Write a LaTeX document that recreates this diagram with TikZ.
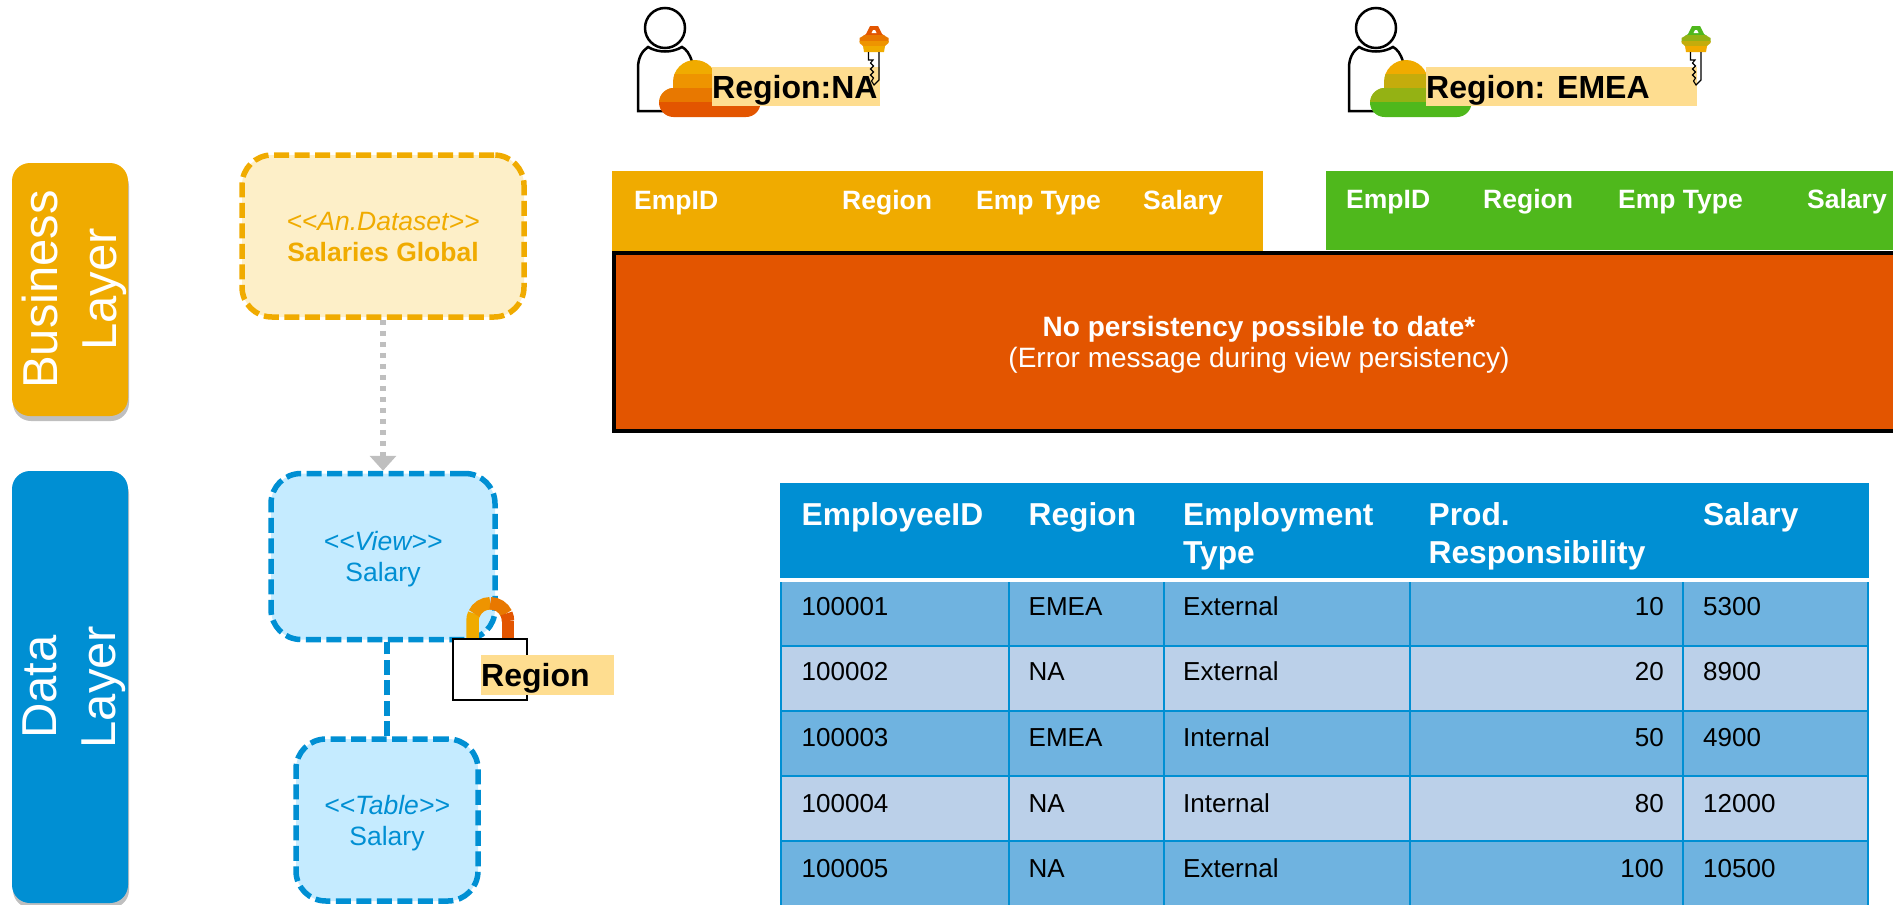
\documentclass[tikz,border=0pt]{standalone}
\usepackage{fontspec}
\setmainfont{Liberation Sans}
\usetikzlibrary{arrows.meta,shadows}

\definecolor{gold}{HTML}{F0AB00}
\definecolor{burnt}{HTML}{E35500}
\definecolor{azure}{HTML}{008FD3}
\definecolor{leaf}{HTML}{4FB81C}
\definecolor{marker}{HTML}{FEDD90}
\definecolor{palegold}{HTML}{FDEFC8}
\definecolor{paleazure}{HTML}{C5EBFF}
\definecolor{rowdark}{HTML}{6FB3E0}
\definecolor{rowlight}{HTML}{BBD0E9}
\definecolor{orangeA}{HTML}{EE9400}
\definecolor{orangeB}{HTML}{E87800}
\definecolor{greenA}{HTML}{C4AC0C}
\definecolor{greenB}{HTML}{94B214}

\tikzset{
  layerpill/.style={rectangle,rounded corners=18pt,minimum width=116pt,
    drop shadow={shadow xshift=1pt,shadow yshift=-5pt,fill=black!50}},
  layertext/.style={rotate=90,text=white,align=center,font=\fontsize{49}{59}\selectfont},
  dashbox/.style={rectangle,rounded corners=30pt,line width=5.5pt,dash pattern=on 15pt off 5.5pt},
  boxtext/.style={align=center,inner sep=0pt,font=\fontsize{26.5}{31}\selectfont},
  highlight/.style={rectangle,fill=marker,inner sep=0pt,minimum height=39pt,anchor=north west},
  regionlabel/.style={anchor=west,inner sep=0pt,yshift=-3.4pt,font=\fontsize{32}{32}\selectfont\bfseries},
  headcell/.style={anchor=base west,inner sep=0pt,text=white,font=\fontsize{26.5}{26.5}\selectfont\bfseries},
  tablehead/.style={anchor=base west,inner sep=0pt,text=white,font=\fontsize{31.7}{31.7}\selectfont\bfseries},
  cell/.style={anchor=base west,inner sep=0pt,font=\fontsize{26}{26}\selectfont},
  cellnum/.style={anchor=base east,inner sep=0pt,font=\fontsize{26}{26}\selectfont},
  tablerow/.style={rectangle,minimum width=1089pt,anchor=north west,inner sep=0pt},
  sep/.style={draw=azure,line width=2pt}
}

% person with the cloud in front
\newcommand{\drawuser}[5]{
  \begin{scope}[shift={(#1,0)}]
    \draw[line width=2.5pt] (665,28) circle (20pt);
    \draw[line width=2.5pt] (665,111) -- (638,111) -- (638,68) .. controls (638,58) and (642,51) .. (648,47)
      .. controls (658,53) and (672,53) .. (682,47) .. controls (686,49) and (690,54) .. (692,62);
    \begin{scope}
      \clip (673,88) -- (673,82) arc[start angle=180,end angle=0,radius=22pt] -- (717,88) -- (746,88)
        arc[start angle=90,end angle=-90,radius=14.5pt] -- (673.5,117)
        arc[start angle=270,end angle=90,radius=14.5pt] -- cycle;
      \fill[#2] (650,60) rectangle (770,74.5);
      \fill[#3] (650,74) rectangle (770,88.5);
      \fill[#4] (650,88) rectangle (770,102.5);
      \fill[#5] (650,102) rectangle (770,118);
    \end{scope}
  \end{scope}
}

% key, bit pointing down
\newcommand{\drawkey}[5]{
  \begin{scope}[shift={(#1,0)}]
    \begin{scope}
      \clip (-4,26) -- (4,26) -- (8,34) -- (11,36) -- (14.5,38) -- (14.5,43) -- (11,46) -- (10,52) -- (-10,52)
        -- (-11,46) -- (-14.5,43) -- (-14.5,38) -- (-11,36) -- (-8,34) -- cycle;
      \fill[#2] (-16,25) rectangle (16,35.5);
      \fill[#3] (-16,35) rectangle (16,41.5);
      \fill[#4] (-16,41) rectangle (16,46.5);
      \fill[#5] (-16,46) rectangle (16,53);
    \end{scope}
    \fill[white] (-2.5,33) -- (-1,30) -- (1,30) -- (2.5,33) -- cycle;
    \draw[line width=1.1pt] (-5.5,52) -- (-5.5,60) -- (-1,60) -- (-3.5,63) -- (-0.5,66) -- (-3.5,69) -- (-0.5,72)
      -- (-3.5,75) -- (-0.5,78) -- (-2.5,81) -- (0,85) -- (5,80) -- (5,52);
  \end{scope}
}

\begin{document}
\begin{tikzpicture}[x=1pt,y=-1pt]
  \useasboundingbox (0,0) rectangle (1893,904.6);
  \clip (0,0) rectangle (1893,904.6);

  % layers
  \node[layerpill,fill=gold,minimum height=253pt] (pillbusiness) at (70,289.5) {};
  \node[layerpill,fill=azure,minimum height=432pt] (pilldata) at (70,687) {};
  \node[layertext] (textbusiness) at (74,289.5) {Business\\Layer};
  \node[layertext] (textdata) at (74,687) {Data\\Layer};

  % model boxes
  \node[dashbox,draw=gold,fill=palegold,minimum width=282pt,minimum height=162pt] (dataset) at (383,236) {};
  \node[dashbox,draw=azure,fill=paleazure,minimum width=224pt,minimum height=166pt] (view) at (383,556.5) {};
  \node[dashbox,draw=azure,fill=paleazure,minimum width=182pt,minimum height=162pt] (table) at (387,820) {};
  \node[boxtext,text=gold] (datasettext) at (383,237) {\textit{<{}<An.Dataset>{}>}\\\textbf{Salaries Global}};
  \node[boxtext,text=azure] (viewtext) at (383,559) {\textit{<{}<View>{}>}\\Salary};
  \node[boxtext,text=azure] (tabletext) at (387,823) {\textit{<{}<Table>{}>}\\Salary};
  \draw[line width=5.5pt,black!25,dash pattern=on 5pt off 6pt,-{Triangle[length=15pt,width=26pt]}] (dataset.south) -- (view.north);
  \draw[line width=5.5pt,azure,dash pattern=on 15pt off 5.5pt] (table.north) -- (table.north |- view.south);

  % lock on the view
  \draw[line width=12.5pt,gold] (472.5,639) -- (472.5,621) arc[start angle=180,end angle=155,radius=17.75pt];
  \draw[line width=12.5pt,orangeA] (474.2,613.5) arc[start angle=155,end angle=90,radius=17.75pt];
  \draw[line width=12.5pt,orangeB] (490.25,603.25) arc[start angle=90,end angle=25,radius=17.75pt];
  \draw[line width=12.5pt,burnt] (508,621) arc[start angle=0,end angle=25,radius=17.75pt];
  \draw[line width=12.5pt,burnt] (508,639) -- (508,621);
  \node[draw=black,fill=white,line width=2.5pt,minimum width=74pt,minimum height=61pt,inner sep=0pt] (lock) at (490,669.5) {};
  \node[highlight,minimum width=133pt,minimum height=40pt] (lockmark) at (481,655) {};
  \node[regionlabel] (locktext) at (lockmark.west) {Region};

  % users
  \drawuser{0}{gold}{orangeA}{orangeB}{burnt}
  \node[highlight,minimum width=168pt] (markna) at (712,67) {};
  \drawkey{874}{burnt}{orangeB}{orangeA}{gold}
  \node[regionlabel] (regionna) at (markna.west) {Region:NA};

  \drawuser{711}{gold}{greenA}{greenB}{leaf}
  \node[highlight,minimum width=271pt] (markemea) at (1426,67) {};
  \drawkey{1696}{leaf}{greenB}{greenA}{gold}
  \node[regionlabel] (regionemea) at (markemea.west) {Region: EMEA};

  % business layer results
  \fill[gold] (612,171) rectangle (1263,252);
  \fill[leaf] (1326,171) rectangle (1900,250);
  \node[headcell] (naid) at (634,209) {EmpID};
  \node[headcell] (naregion) at (842,209) {Region};
  \node[headcell] (natype) at (976,209) {Emp Type};
  \node[headcell] (nasalary) at (1143,209) {Salary};
  \node[headcell] (emeaid) at (1346,208) {EmpID};
  \node[headcell] (emearegion) at (1483,208) {Region};
  \node[headcell] (emeatype) at (1618,208) {Emp Type};
  \node[headcell] (emeasalary) at (1807,208) {Salary};
  \draw[draw=black,fill=burnt,line width=4.5pt] (614,253) rectangle (1900,431);
  \node[text=white,align=center,font=\fontsize{28}{31.5}\selectfont] (errortext) at (1259,345)
    {\textbf{No persistency possible to date*}\\(Error message during view persistency)};

  % table
  \fill[azure] (780,483) rectangle (1869,578);
  \node[tablerow,fill=rowdark,minimum height=65pt] (rowa) at (780,582) {};
  \node[tablerow,fill=rowlight,minimum height=65pt] (rowb) at (780,647) {};
  \node[tablerow,fill=rowdark,minimum height=65pt] (rowc) at (780,712) {};
  \node[tablerow,fill=rowlight,minimum height=65pt] (rowd) at (780,777) {};
  \node[tablerow,fill=rowdark,minimum height=70pt] (rowe) at (780,842) {};
  \draw[sep] (781,582) -- (781,906);
  \draw[sep] (1009,582) -- (1009,906);
  \draw[sep] (1164,582) -- (1164,906);
  \draw[sep] (1410,582) -- (1410,906);
  \draw[sep] (1683,582) -- (1683,906);
  \draw[sep] (1868,582) -- (1868,906);
  \draw[sep] (780,646) -- (1869,646);
  \draw[sep] (780,711) -- (1869,711);
  \draw[sep] (780,776) -- (1869,776);
  \draw[sep] (780,841) -- (1869,841);
  \node[tablehead] (heada) at (801.5,525.5) {EmployeeID};
  \node[tablehead] (headb) at (1028.5,525.5) {Region};
  \node[tablehead] (headc) at (1183,525.5) {Employment};
  \node[tablehead] (headcc) at (1183,563.5) {Type};
  \node[tablehead] (headd) at (1428.5,525.5) {Prod.};
  \node[tablehead] (headdd) at (1428.5,563.5) {Responsibility};
  \node[tablehead] (heade) at (1703,525.5) {Salary};
  \node[cell] (a1) at (801.5,615) {100001};
  \node[cell] (a2) at (1028.5,615) {EMEA};
  \node[cell] (a3) at (1183,615) {External};
  \node[cellnum] (a4) at (1664,615) {10};
  \node[cell] (a5) at (1703,615) {5300};
  \node[cell] (b1) at (801.5,680) {100002};
  \node[cell] (b2) at (1028.5,680) {NA};
  \node[cell] (b3) at (1183,680) {External};
  \node[cellnum] (b4) at (1664,680) {20};
  \node[cell] (b5) at (1703,680) {8900};
  \node[cell] (c1) at (801.5,746) {100003};
  \node[cell] (c2) at (1028.5,746) {EMEA};
  \node[cell] (c3) at (1183,746) {Internal};
  \node[cellnum] (c4) at (1664,746) {50};
  \node[cell] (c5) at (1703,746) {4900};
  \node[cell] (d1) at (801.5,812) {100004};
  \node[cell] (d2) at (1028.5,812) {NA};
  \node[cell] (d3) at (1183,812) {Internal};
  \node[cellnum] (d4) at (1664,812) {80};
  \node[cell] (d5) at (1703,812) {12000};
  \node[cell] (e1) at (801.5,877) {100005};
  \node[cell] (e2) at (1028.5,877) {NA};
  \node[cell] (e3) at (1183,877) {External};
  \node[cellnum] (e4) at (1664,877) {100};
  \node[cell] (e5) at (1703,877) {10500};
\end{tikzpicture}
\end{document}
